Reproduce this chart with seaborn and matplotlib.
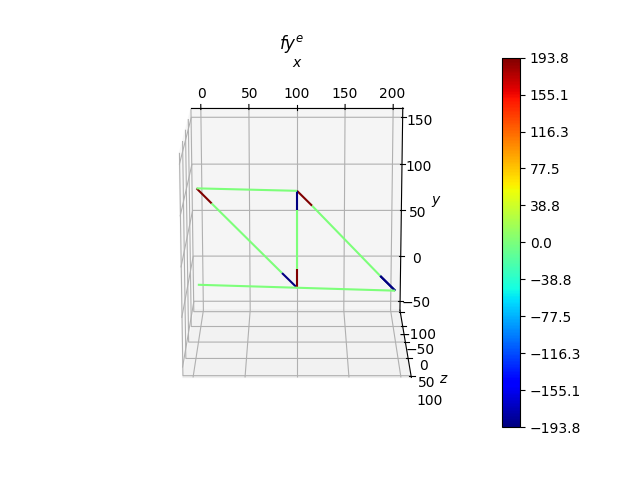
import numpy as np
import matplotlib
matplotlib.use("Agg")
import matplotlib.pyplot as plt
import seaborn as sns
from matplotlib.colors import Normalize, ListedColormap
from matplotlib.cm import ScalarMappable
from mpl_toolkits.mplot3d.art3d import Line3DCollection

sns.set_theme(style="white")
sns.reset_orig()

vmax = 193.8
cbar_ticks = [-193.8, -155.1, -116.3, -77.5, -38.8, 0.0, 38.8, 77.5, 116.3, 155.1, 193.8]

start_x = [0, 15, 85, 100, 115, 183, 100, 100, 100, 198, 0, 100]
start_y = [100, 85, 15, 100, 85, 15, 100, 80, 0, 0, 0, 100]
start_z = [-2, 0, 7, 8, 9, 17, 8, 8, 8, 18, -2, 8]
end_x = [15, 85, 100, 115, 183, 198, 100, 100, 100, 183, 198, 0]
end_y = [85, 15, 0, 85, 15, 0, 80, 20, 20, 15, 0, 100]
end_z = [0, 7, 8, 9, 17, 18, 8, 8, 8, 17, 18, -2]
values = [193.8, 0, -193.8, 193.8, 0, -193.8, -193.8, 0, 193.8, -193.8, 0, 0]

segs = [[(a, b, c), (d, e, f)] for a, b, c, d, e, f in zip(start_x, start_y, start_z, end_x, end_y, end_z)]

fig = plt.figure(figsize=(6.4, 4.8), dpi=100)
ax = fig.add_subplot(projection="3d")
cmap = ListedColormap(sns.mpl_palette("jet", 256))
norm = Normalize(-vmax, vmax)
lc = Line3DCollection(segs, cmap=cmap, norm=norm, linewidths=1.5)
lc.set_array(np.array(values, dtype=float))
ax.add_collection3d(lc)
ax.set_xlim(-10, 210)
ax.set_ylim(-60, 160)
ax.set_zlim(-105, 105)
ax.set_box_aspect((1, 1, 1))
ax.set_xticks([0, 50, 100, 150, 200])
ax.set_yticks([-50, 0, 50, 100, 150])
ax.set_zticks([-100, -50, 0, 50, 100])
ax.set_xlabel(r"$x$")
ax.set_ylabel(r"$y$")
ax.set_zlabel(r"$z$")
ax.view_init(elev=105, azim=-90)
ax.set_title(r"$fy^e$")
cb = fig.colorbar(ScalarMappable(norm=norm, cmap=cmap), ax=ax, ticks=cbar_ticks)
fig.savefig("out.png", dpi=100)
